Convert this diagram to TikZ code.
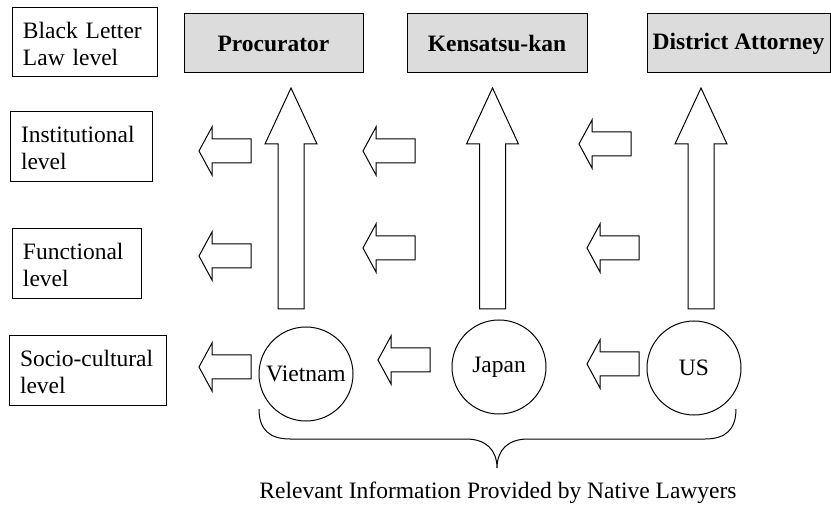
\documentclass[tikz,border=0pt]{standalone}
\usepackage{fontspec}
\setmainfont{Liberation Serif}
\definecolor{boxgray}{RGB}{220,220,220}
\newcommand{\toppad}{\rule{0pt}{19pt}}
\begin{document}
\begin{tikzpicture}[x=1pt,y=-1pt,
  every node/.style={font=\fontsize{23.5}{27}\selectfont},
  lvl/.style={draw,line width=1pt,rectangle,inner xsep=11pt,inner ysep=0pt,align=left},
  office/.style={draw,line width=1pt,rectangle,fill=boxgray,minimum height=59pt,inner sep=0pt,font=\fontsize{23.5}{27}\selectfont\bfseries},
  country/.style={draw,line width=1pt,circle,minimum size=94pt,inner sep=0pt},
  blockline/.style={draw,line width=1pt,line join=miter,fill=white},
  larrow/.pic={\path[blockline] (0,0) -- (13,-24) -- (13,-12) -- (52,-12) -- (52,12) -- (13,12) -- (13,24) -- cycle;},
  uarrow/.pic={\path[blockline] (0,0) -- (26,56) -- (13,56) -- (13,221) -- (-13,221) -- (-13,56) -- (-26,56) -- cycle;}
]
\useasboundingbox (0,0) rectangle (831,505);

% level boxes
\node[lvl,minimum height=69pt,text width=123pt] (bll) at (84.5,42.5) {\toppad Black Letter\\Law level};
\node[lvl,minimum height=70pt,text width=120pt] (inst) at (81,147) {\toppad Institutional\\level};
\node[lvl,minimum height=70pt,text width=107pt] (func) at (76.5,264) {\toppad Functional\\level};
\node[lvl,minimum height=70pt,text width=135pt] (soc) at (87.5,371) {\toppad Socio-cultural\\level};

% office boxes
\node[office,minimum width=179pt] (proc) at (273.5,43.5) {Procurator};
\node[office,minimum width=180pt] (kens) at (497,43.5) {Kensatsu-kan};
\node[office,minimum width=183pt] (da) at (738.5,43.5) {District Attorney};

% up arrows
\pic at (291,88) {uarrow};
\pic at (492.5,88) {uarrow};
\pic at (701,88) {uarrow};

% left arrows: institutional row
\pic at (199,151) {larrow};
\pic at (363,151) {larrow};
\pic at (579,144) {larrow};
% functional row
\pic at (199,256) {larrow};
\pic at (363,248) {larrow};
\pic at (587,248) {larrow};
% socio-cultural row
\pic at (199,367) {larrow};
\pic at (378,360) {larrow};
\pic at (587,364) {larrow};

% countries
\node[country] (vn) at (306,374) {Vietnam};
\node[country] (jp) at (499,367) {Japan};
\node[country] (us) at (694,368) {US};

% brace
\coordinate (bl) at (259,409);
\coordinate (br) at (736,409);
\coordinate (bt) at (497,468);
\draw[line width=1pt] (bl) .. controls (259,430) and (270,439) .. (290,439) -- (466,439)
  .. controls (486,439) and (497,450) .. (bt)
  .. controls (497,450) and (508,439) .. (528,439) -- (705,439)
  .. controls (725,439) and (736,430) .. (br);

\node[anchor=base] (info) at (498,498) {Relevant Information Provided by Native Lawyers};
\end{tikzpicture}
\end{document}
